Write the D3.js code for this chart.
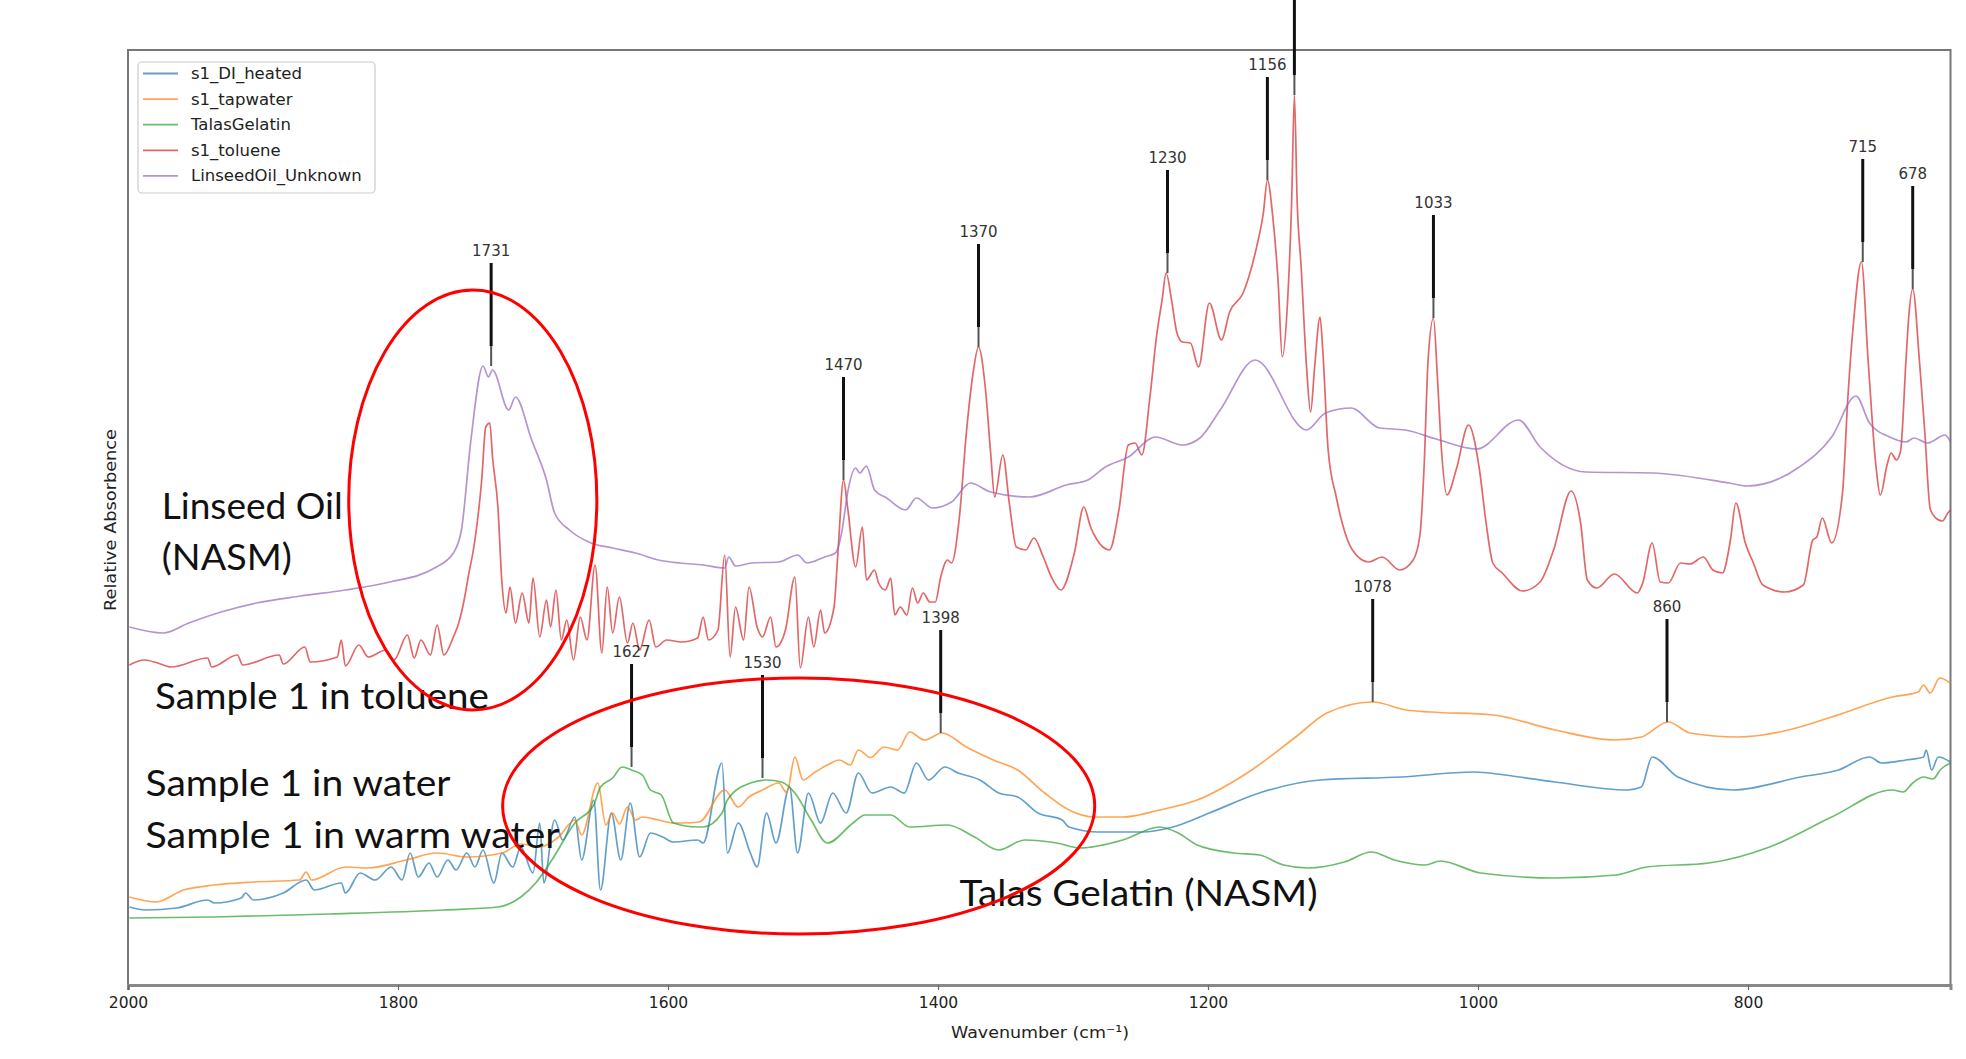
<!DOCTYPE html>
<html><head><meta charset="utf-8">
<script src="https://cdn.jsdelivr.net/npm/d3@7"></script>
<style>
html,body{margin:0;padding:0;background:#fff;}
svg{display:block;}
</style></head><body>
<svg id="chart" width="1966" height="1059"></svg>
<script>
// ---------------- DATA ----------------
const seriesNames = ["s1_DI_heated", "s1_tapwater", "TalasGelatin", "s1_toluene", "LinseedOil_Unknown"];
const seriesColors = ["#1f77b4", "#ff7f0e", "#2ca02c", "#d62728", "#9467bd"];
const xTicks = [2000, 1800, 1600, 1400, 1200, 1000, 800];

// [wavenumber (cm-1), relative absorbance]
const blueData = [
 [1999,.156],[1987,.150],[1964,.154],[1941,.170],[1936,.164],[1916,.174],[1913,.184],[1907,.170],[1885,.184],[1868,.210],
 [1862,.190],[1842,.204],[1839,.184],[1828,.224],[1817,.210],[1805,.236],[1797,.210],[1791,.264],[1785,.216],[1777,.244],
 [1771,.216],[1763,.250],[1757,.230],[1749,.264],[1743,.236],[1737,.270],[1729,.204],[1723,.264],[1715,.236],[1709,.276],
 [1700,.224],[1695,.324],[1692,.204],[1684,.330],[1678,.290],[1669,.336],[1664,.250],[1655,.370],[1650,.190],[1642,.344],
 [1635,.250],[1628,.364],[1621,.256],[1613,.304],[1604,.296],[1596,.286],[1578,.290],[1574,.284],[1560,.444],[1556,.264],
 [1548,.324],[1539,.264],[1534,.236],[1527,.344],[1520,.284],[1510,.396],[1504,.264],[1496,.384],[1487,.324],[1478,.384],
 [1468,.344],[1459,.424],[1449,.384],[1435,.396],[1425,.384],[1416,.444],[1407,.410],[1395,.436],[1385,.424],[1369,.410],
 [1355,.384],[1341,.376],[1326,.344],[1308,.330],[1303,.316],[1281,.306],[1249,.306],[1226,.316],[1199,.344],[1162,.384],
 [1117,.410],[1057,.416],[1003,.426],[980,.420],[943,.406],[889,.390],[879,.396],[871,.456],[852,.416],[811,.390],
 [761,.416],[733,.430],[710,.456],[701,.444],[683,.450],[670,.456],[668,.470],[664,.430],[659,.456],[650,.446]
];
const orangeData = [
 [1999,.176],[1979,.166],[1959,.190],[1936,.200],[1907,.206],[1873,.210],[1868,.226],[1864,.210],[1839,.236],[1822,.234],
 [1794,.250],[1771,.264],[1749,.256],[1723,.264],[1709,.282],[1695,.276],[1681,.296],[1669,.330],[1664,.300],[1652,.404],
 [1646,.320],[1641,.344],[1636,.322],[1630,.356],[1624,.330],[1619,.336],[1607,.330],[1596,.324],[1590,.324],[1577,.326],
 [1558,.390],[1548,.356],[1540,.376],[1530,.390],[1518,.404],[1512,.385],[1506,.456],[1500,.410],[1492,.424],[1482,.440],
 [1473,.450],[1465,.440],[1459,.470],[1450,.455],[1440,.476],[1430,.470],[1421,.506],[1410,.490],[1397,.504],[1379,.476],
 [1359,.450],[1341,.430],[1321,.384],[1303,.350],[1284,.336],[1263,.336],[1236,.350],[1208,.370],[1171,.424],[1135,.496],
 [1112,.544],[1078,.566],[1053,.550],[1035,.546],[989,.540],[943,.510],[898,.490],[879,.496],[859,.526],[843,.504],
 [807,.496],[770,.510],[738,.536],[693,.576],[674,.586],[670,.600],[665,.584],[658,.614],[650,.604]
];
const greenData = [
 [1999,.134],[1936,.136],[1850,.142],[1766,.150],[1726,.156],[1709,.176],[1698,.204],[1686,.250],[1669,.324],[1655,.360],
 [1650,.396],[1641,.414],[1634,.436],[1627,.430],[1619,.420],[1613,.390],[1605,.380],[1596,.324],[1578,.316],[1574,.316],
 [1560,.344],[1556,.370],[1539,.404],[1527,.410],[1516,.406],[1506,.384],[1494,.330],[1482,.284],[1463,.324],[1454,.340],
 [1435,.340],[1421,.316],[1393,.320],[1373,.296],[1355,.270],[1336,.290],[1312,.284],[1295,.274],[1263,.290],[1236,.316],
 [1222,.304],[1208,.280],[1181,.264],[1162,.260],[1144,.240],[1126,.234],[1099,.246],[1079,.266],[1062,.250],[1039,.240],
 [1028,.248],[998,.224],[943,.214],[898,.220],[875,.236],[829,.244],[784,.276],[738,.336],[693,.390],[685,.386],
 [678,.404],[670,.416],[663,.412],[657,.432],[650,.444]
];
const redData = [
 [1999,.640],[1988,.650],[1978,.644],[1968,.636],[1941,.654],[1938,.636],[1919,.660],[1915,.640],[1888,.660],[1885,.642],
 [1869,.676],[1865,.646],[1845,.656],[1842,.690],[1839,.638],[1829,.680],[1822,.656],[1809,.670],[1803,.650],[1793,.700],
 [1788,.654],[1783,.690],[1776,.660],[1771,.720],[1766,.660],[1759,.696],[1755,.724],[1751,.770],[1748,.816],[1743,.890],
 [1738,1.010],[1735,1.116],[1732,1.124],[1730,1.056],[1726,.956],[1723,.804],[1720,.744],[1717,.796],[1713,.724],[1708,.784],
 [1703,.724],[1700,.814],[1695,.696],[1690,.770],[1687,.716],[1683,.790],[1679,.690],[1675,.730],[1670,.650],[1665,.736],
 [1660,.690],[1654,.840],[1649,.664],[1645,.796],[1641,.704],[1636,.776],[1630,.684],[1626,.724],[1621,.670],[1614,.730],
 [1609,.676],[1601,.690],[1590,.686],[1578,.694],[1574,.736],[1570,.690],[1563,.710],[1558,.860],[1554,.656],[1550,.756],
 [1544,.690],[1540,.796],[1534,.716],[1530,.696],[1524,.736],[1520,.676],[1513,.710],[1506,.816],[1502,.634],[1496,.736],
 [1492,.676],[1487,.750],[1484,.704],[1477,.756],[1474,.870],[1470,1.010],[1467,.956],[1461,.836],[1456,.916],[1453,.810],
 [1447,.830],[1444,.804],[1439,.790],[1435,.814],[1432,.740],[1428,.756],[1423,.740],[1419,.794],[1415,.764],[1411,.784],
 [1406,.766],[1402,.766],[1398,.816],[1393,.850],[1390,.844],[1384,.940],[1379,1.104],[1374,1.224],[1370,1.276],[1365,1.196],
 [1361,1.064],[1358,.976],[1352,1.060],[1347,.960],[1342,.876],[1335,.870],[1329,.894],[1322,.856],[1316,.816],[1309,.790],
 [1299,.864],[1292,.956],[1287,.916],[1283,.894],[1273,.870],[1266,.950],[1259,1.080],[1254,1.084],[1249,1.060],[1243,1.176],
 [1238,1.300],[1234,1.370],[1231,1.424],[1227,1.370],[1223,1.304],[1219,1.286],[1213,1.284],[1207,1.236],[1199,1.364],[1190,1.290],
 [1184,1.346],[1174,1.384],[1164,1.476],[1159,1.544],[1156,1.610],[1152,1.536],[1148,1.404],[1145,1.256],[1141,1.370],[1138,1.570],
 [1136,1.780],[1134,1.570],[1131,1.436],[1127,1.236],[1124,1.146],[1121,1.236],[1117,1.336],[1115,1.270],[1111,1.070],[1105,.976],
 [1093,.870],[1081,.846],[1071,.856],[1058,.830],[1048,.850],[1043,.900],[1040,1.032],[1037,1.248],[1033,1.334],[1030,1.212],
 [1027,1.068],[1023,.980],[1016,1.032],[1007,1.120],[999,1.032],[994,.924],[989,.844],[982,.824],[967,.788],[954,.806],
 [944,.870],[931,.988],[924,.924],[919,.810],[912,.794],[899,.822],[882,.784],[878,.804],[871,.884],[865,.806],
 [859,.804],[850,.844],[843,.842],[833,.856],[826,.830],[819,.824],[813,.890],[809,.964],[802,.884],[796,.844],
 [789,.800],[773,.786],[759,.800],[752,.890],[749,.896],[745,.934],[738,.884],[730,.984],[726,1.176],[722,1.320],
 [716,1.446],[711,1.248],[705,1.032],[702,.980],[697,1.040],[694,1.064],[690,1.050],[687,1.068],[683,1.248],[681,1.334],
 [678,1.392],[673,1.248],[669,1.104],[665,.952],[660,.932],[656,.928],[652,.944],[650,.950]
];
const purpleData = [
 [1999,.716],[1974,.704],[1955,.724],[1931,.746],[1905,.764],[1872,.778],[1839,.790],[1806,.806],[1773,.834],[1759,.864],
 [1753,.910],[1746,1.090],[1737,1.238],[1733,1.216],[1730,1.230],[1718,1.150],[1713,1.176],[1701,1.090],[1690,1.010],[1684,.944],
 [1673,.910],[1657,.884],[1641,.874],[1624,.864],[1607,.850],[1591,.844],[1574,.840],[1558,.834],[1555,.856],[1550,.838],
 [1538,.844],[1518,.846],[1504,.860],[1497,.844],[1484,.856],[1476,.864],[1471,.910],[1467,.984],[1461,1.034],[1458,1.024],
 [1453,1.038],[1447,.990],[1438,.974],[1424,.950],[1416,.974],[1404,.954],[1390,.966],[1376,1.004],[1361,.986],[1332,.976],
 [1305,1.000],[1289,1.010],[1276,1.036],[1259,1.056],[1239,1.096],[1219,1.080],[1206,1.094],[1191,1.150],[1165,1.250],[1127,1.110],
 [1113,1.144],[1094,1.154],[1073,1.114],[1054,1.110],[1031,1.092],[1001,1.072],[970,1.130],[954,1.076],[920,1.026],[871,1.024],
 [814,1.004],[801,.998],[762,1.036],[738,1.096],[720,1.178],[710,1.124],[695,1.096],[683,1.086],[677,1.094],[667,1.084],
 [654,1.100],[650,1.086]
];

// peak annotations: wavenumber, absorbance at the peak tip, label
const peakWn = [1731, 1470, 1370, 1230, 1156, 1136, 1033, 715, 678, 1627, 1530, 1398, 1078, 860];
const peakTip = [1.238, 1.010, 1.276, 1.424, 1.610, 1.780, 1.334, 1.446, 1.392, 0.436, 0.414, 0.504, 0.566, 0.526];
const peakLabels = ["1731", "1470", "1370", "1230", "1156", "", "1033", "715", "678", "1627", "1530", "1398", "1078", "860"];

// ---------------- DRAWING ----------------
const svg = d3.select("#chart");
const W = 1966, H = 1059;
const m = {left: 128, right: 1950.5, top: 50, bottom: 985};

const x = d3.scaleLinear().domain([2000, 650]).range([m.left, m.right]);
const y = d3.scaleLinear().domain([0, 1.87]).range([m.bottom, m.top]);

svg.append("rect").attr("x", 0).attr("y", 0).attr("width", W).attr("height", H).attr("fill", "#fff");

// frame
svg.append("rect")
  .attr("x", m.left).attr("y", m.top)
  .attr("width", m.right - m.left).attr("height", m.bottom - m.top)
  .attr("fill", "none").attr("stroke", "#777").attr("stroke-width", 2);

const allSeries = [blueData, orangeData, greenData, redData, purpleData];
const line = d3.line().x(d => x(d[0])).y(d => y(d[1])).curve(d3.curveMonotoneX);

svg.append("g").selectAll("path").data(allSeries).join("path")
  .attr("d", d => line(d))
  .attr("fill", "none")
  .attr("stroke", (d, i) => seriesColors[i])
  .attr("stroke-opacity", 0.7)
  .attr("stroke-width", 1.7)
  .attr("stroke-linejoin", "round");

// x axis
const xAxis = d3.axisBottom(x).tickValues(xTicks).tickFormat(d3.format("d")).tickSize(5).tickPadding(7);
const gx = svg.append("g").attr("transform", `translate(0,${m.bottom})`).call(xAxis);
gx.select(".domain").attr("stroke", "#888").attr("stroke-width", 3);
gx.selectAll(".tick line").attr("stroke", "#666").attr("stroke-width", 1.2);
gx.selectAll(".tick text").attr("font-family", "DejaVu Sans").attr("font-size", 15.5).attr("fill", "#222");

svg.append("text")
  .attr("x", 1040).attr("y", 1032)
  .attr("text-anchor", "middle").attr("dominant-baseline", "central")
  .attr("font-family", "DejaVu Sans").attr("font-size", 16.5).attr("fill", "#222")
  .attr("textLength", 178).attr("lengthAdjust", "spacingAndGlyphs")
  .text("Wavenumber (cm\u207B\u00B9)");

svg.append("text")
  .attr("transform", "translate(110,520) rotate(-90)")
  .attr("text-anchor", "middle").attr("dominant-baseline", "central")
  .attr("font-family", "DejaVu Sans").attr("font-size", 16).attr("fill", "#222")
  .attr("textLength", 182).attr("lengthAdjust", "spacingAndGlyphs")
  .text("Relative Absorbence");

// legend
const lg = svg.append("g");
lg.append("rect").attr("x", 138).attr("y", 62).attr("width", 237).attr("height", 131).attr("rx", 4)
  .attr("fill", "#fff").attr("fill-opacity", 0.85).attr("stroke", "#ccc").attr("stroke-width", 1.2);
seriesNames.forEach((n, i) => {
  const yy = 73.5 + i * 25.6;
  lg.append("line").attr("x1", 143).attr("x2", 178).attr("y1", yy).attr("y2", yy)
    .attr("stroke", seriesColors[i]).attr("stroke-opacity", 0.7).attr("stroke-width", 1.8);
  lg.append("text").attr("x", 191).attr("y", yy).attr("dominant-baseline", "central")
    .attr("font-family", "DejaVu Sans").attr("font-size", 16.5).attr("fill", "#222").text(n);
});

// peak annotation lines + labels
const peaks = peakWn.map((w, i) => ({w, tip: peakTip[i], label: peakLabels[i]}));
const pg = svg.append("g");
peaks.forEach(p => {
  const px = x(p.w), tipY = y(p.tip), topY = tipY - 103;
  pg.append("line").attr("x1", px).attr("x2", px).attr("y1", topY).attr("y2", tipY - 20)
    .attr("stroke", "#111").attr("stroke-width", 3);
  pg.append("line").attr("x1", px).attr("x2", px).attr("y1", tipY - 20).attr("y2", tipY)
    .attr("stroke", "#555").attr("stroke-width", 2);
  if (p.label) {
    pg.append("text").attr("x", px).attr("y", topY - 12)
      .attr("text-anchor", "middle").attr("dominant-baseline", "central")
      .attr("font-family", "DejaVu Sans").attr("font-size", 15).attr("fill", "#333")
      .text(p.label);
  }
});

// big sample annotations
const notes = [
  {t: "Linseed Oil", w: 1975, v: 0.932, len: 181},
  {t: "(NASM)", w: 1975, v: 0.830, len: 130},
  {t: "Sample 1 in toluene", w: 1980, v: 0.552, len: 334},
  {t: "Sample 1 in water", w: 1987, v: 0.378, len: 305},
  {t: "Sample 1 in warm water", w: 1987, v: 0.274, len: 414},
  {t: "Talas Gelatin (NASM)", w: 1384, v: 0.158, len: 358}
];
svg.append("g").selectAll("text").data(notes).join("text")
  .attr("x", d => x(d.w)).attr("y", d => y(d.v))
  .attr("font-family", "Lato").attr("font-size", 37).attr("fill", "#111")
  .attr("textLength", d => d.len).attr("lengthAdjust", "spacingAndGlyphs")
  .text(d => d.t);

// red ellipses
const ellipses = [
  {cw: 1744.6, cv: 0.970, rw: 91.9, rv: 0.420},
  {cw: 1503.2, cv: 0.358, rw: 219.3, rv: 0.256}
];
svg.append("g").selectAll("ellipse").data(ellipses).join("ellipse")
  .attr("cx", d => x(d.cw)).attr("cy", d => y(d.cv))
  .attr("rx", d => x(d.cw - d.rw) - x(d.cw))
  .attr("ry", d => y(d.cv - d.rv) - y(d.cv))
  .attr("fill", "none").attr("stroke", "#ff0000").attr("stroke-width", 3);
</script>
</body></html>
